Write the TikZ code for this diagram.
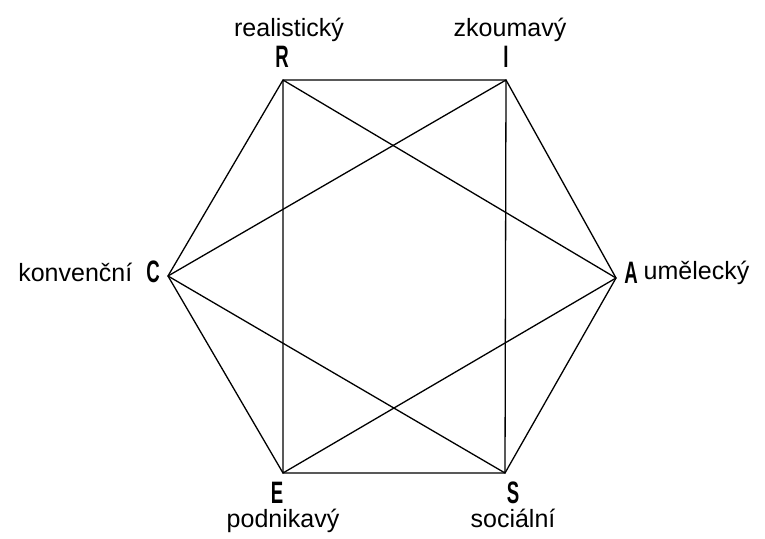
\documentclass[tikz,border=0pt]{standalone}
\usepackage{fontspec}
\setmainfont{Liberation Sans}
\usepackage{graphicx}
\usetikzlibrary{positioning}

\newcommand{\typeletter}[1]{\scalebox{0.6}[1]{\bfseries #1}}

\begin{document}
\begin{tikzpicture}[
        x=1pt, y=-1pt,
        every node/.style={inner sep=0pt, outer sep=0pt},
        word/.style={font=\fontsize{25}{28}\selectfont},
        letter/.style={font=\fontsize{31}{33}\selectfont},
        line/.style={draw, line width=1.3pt, line join=round}
    ]
        \useasboundingbox (0,0) rectangle (765,538);

        % Corners of the hexagon
        \coordinate (R) at (283,80);
        \coordinate (I) at (506,80);
        \coordinate (A) at (616,278);
        \coordinate (S) at (505,473);
        \coordinate (E) at (283,473);
        \coordinate (C) at (168,276);

        % Letters
        \node[letter] (lR) at (282,57) {\typeletter{R}};
        \node[letter] (lI) at (506,57) {\typeletter{I}};
        \node[letter] (lA) at (631,273) {\typeletter{A}};
        \node[letter] (lS) at (513,493) {\typeletter{S}};
        \node[letter] (lE) at (277,493) {\typeletter{E}};
        \node[letter] (lC) at (153,272) {\typeletter{C}};

        % Names
        \node[word, above=5pt of lR, xshift=7pt] (realistic) {realistický};
        \node[word, above=5pt of lI, xshift=4pt] (investigative) {zkoumavý};
        \node[word, right=6pt of lA] (artistic) {umělecký};
        \node[word, below=5pt of lS] (social) {sociální};
        \node[word, below=5pt of lE, xshift=6pt] (enterprising) {podnikavý};
        \node[word, left=14pt of lC] (conventional) {konvenční};

        % Hexagon
        \draw[line] (R) -- (I) -- (A) -- (S) -- (E) -- (C) -- cycle;

        % Triangles
        \draw[line] (R) -- (A) -- (E) -- cycle;
        \draw[line] (I) -- (C) -- (S) -- cycle;
    \end{tikzpicture}
\end{document}
